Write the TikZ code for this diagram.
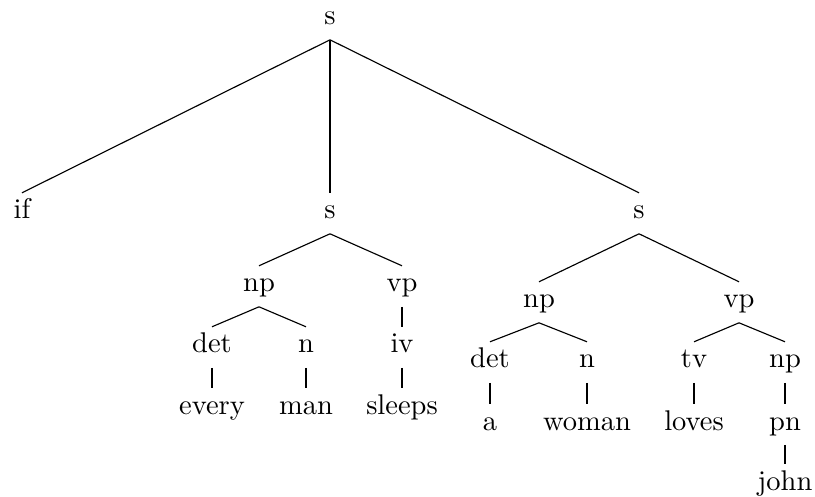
\documentclass[tikz,border=0pt]{standalone}
\usepackage{tikz}
\usetikzlibrary{positioning}

\begin{document}
\begin{tikzpicture}[
        x=0.351pt, y=-0.351pt,
        every node/.style={anchor=base, text height=7pt, text depth=3pt, inner ysep=2pt, inner xsep=1pt},
        branch/.style={line width=0.4pt}]

    \useasboundingbox (0,0) rectangle (815,497);

    % top level
    \node (s) at (330,25) {s};
    \node (if) at (22,219) {if};
    \node (sl) at (330,219) {s};
    \node (sr) at (639,219) {s};

    % left clause
    \node (npl) at (259,292) {np};
    \node (vpl) at (402,292) {vp};
    \node (detl) at (212,353) {det};
    \node (nl) at (306,353) {n};
    \node (iv) at (402,353) {iv};
    \node (every) at (212,414) {every};
    \node (man) at (306,414) {man};
    \node (sleeps) at (402,414) {sleeps};

    % right clause
    \node (npr) at (539,308) {np};
    \node (vpr) at (739,308) {vp};
    \node (detr) at (490,368) {det};
    \node (nr) at (587,368) {n};
    \node (tv) at (694,368) {tv};
    \node (npo) at (785,368) {np};
    \node (a) at (490,430) {a};
    \node (woman) at (587,430) {woman};
    \node (loves) at (694,430) {loves};
    \node (pn) at (785,430) {pn};
    \node (john) at (785,490) {john};

    \draw[branch] (s.south) -- (if.north);
    \draw[branch] (s.south) -- (sl.north);
    \draw[branch] (s.south) -- (sr.north);

    \draw[branch] (sl.south) -- (npl.north);
    \draw[branch] (sl.south) -- (vpl.north);
    \draw[branch] (npl.south) -- (detl.north);
    \draw[branch] (npl.south) -- (nl.north);
    \draw[branch] (vpl.south) -- (iv.north);
    \draw[branch] (detl.south) -- (every.north);
    \draw[branch] (nl.south) -- (man.north);
    \draw[branch] (iv.south) -- (sleeps.north);

    \draw[branch] (sr.south) -- (npr.north);
    \draw[branch] (sr.south) -- (vpr.north);
    \draw[branch] (npr.south) -- (detr.north);
    \draw[branch] (npr.south) -- (nr.north);
    \draw[branch] (vpr.south) -- (tv.north);
    \draw[branch] (vpr.south) -- (npo.north);
    \draw[branch] (detr.south) -- (a.north);
    \draw[branch] (nr.south) -- (woman.north);
    \draw[branch] (tv.south) -- (loves.north);
    \draw[branch] (npo.south) -- (pn.north);
    \draw[branch] (pn.south) -- (john.north);
\end{tikzpicture}
\end{document}
